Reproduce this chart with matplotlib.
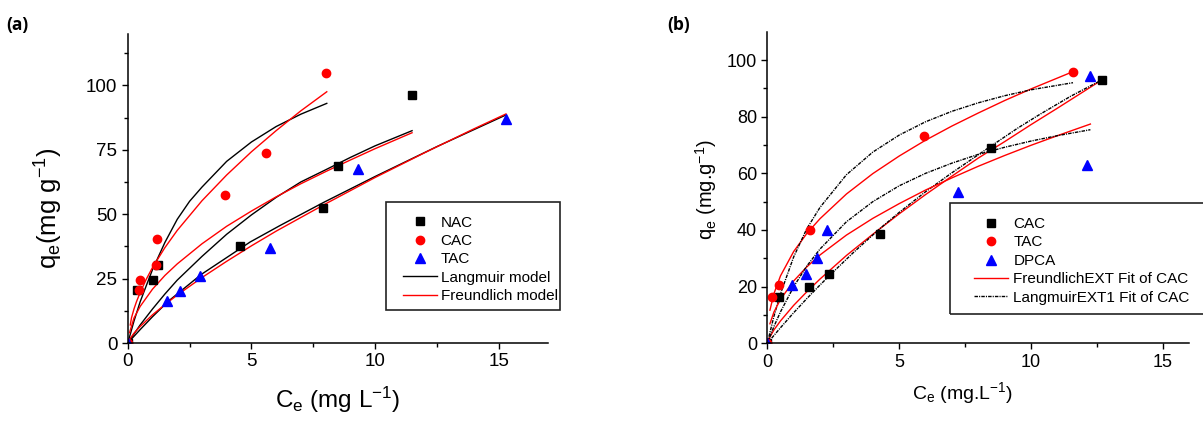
import matplotlib
matplotlib.use("Agg")
import matplotlib.pyplot as plt
from matplotlib.patches import Rectangle

plt.rcParams['font.family'] = ['Liberation Sans', 'DejaVu Sans']

# ---- panel (a) measured points ----
a_nac_x = [0, 0.38, 1.01, 1.22, 4.52, 7.9, 8.52, 11.5]
a_nac_y = [0, 20.4, 24.3, 30.4, 37.6, 52.4, 68.8, 96.1]
a_cac_x = [0, 0.47, 0.51, 1.15, 1.17, 3.93, 5.6, 8.0]
a_cac_y = [0, 20.4, 24.6, 30.4, 40.5, 57.4, 73.9, 104.9]
a_tac_x = [0, 1.59, 2.13, 2.94, 5.74, 9.33, 15.3]
a_tac_y = [0, 16.2, 20.2, 26.1, 36.9, 67.7, 86.8]

# ---- panel (a) model curves ----
a_lang_cac_x = [0, 0.1, 0.25, 0.5, 0.75, 1, 1.5, 2, 2.5, 3, 4, 5, 6, 7, 8.05]
a_lang_cac_y = [0, 3.4, 8.5, 16, 22.3, 28.5, 39, 48, 55, 60.5, 70.5, 78, 84, 88.8, 93]
a_frd_cac_x = [0.1, 0.15, 0.25, 0.35, 0.5, 0.75, 1, 1.5, 2, 3, 4, 5, 6, 7, 8.05]
a_frd_cac_y = [7, 9.8, 13.2, 16.0, 19.6, 24.8, 29.3, 37, 43.7, 55.2, 65.2, 74.2, 82.4, 90.1, 97.5]
a_lang_nac_x = [0, 0.5, 1, 1.5, 2, 3, 4, 5, 6, 7, 8, 9, 10, 11.5]
a_lang_nac_y = [0, 7.0, 13.2, 19.0, 24.4, 33.6, 42.2, 49.7, 56.5, 62.5, 67.2, 72, 76.5, 82.4]
a_frd_nac_x = [0.07, 0.25, 0.5, 1, 1.5, 2, 3, 4, 5, 6, 7, 8, 9, 10, 11.5]
a_frd_nac_y = [4, 9.7, 14.2, 20.9, 26.2, 30.7, 38.5, 45.3, 51.2, 56.7, 61.8, 66.5, 71, 75.4, 81.6]
a_lang_tac_x = [0, 0.5, 1, 1.65, 2.97, 4.95, 6.16, 7.91, 10, 12.5, 15.3]
a_lang_tac_y = [0, 5.2, 10.2, 16.3, 26.6, 39.2, 45.6, 54.5, 64.6, 76.2, 88.5]
a_frd_tac_x = [0.05, 0.25, 0.5, 1, 1.5, 2, 3, 4, 5, 6, 8, 10, 12, 14, 15.3]
a_frd_tac_y = [1.1, 3.8, 6.4, 10.95, 14.9, 18.6, 25.4, 31.7, 37.7, 43.4, 54.0, 64.2, 73.8, 83.1, 88.9]

# ---- panel (b) measured points ----
b_cac_x = [0, 0.44, 1.58, 2.34, 4.27, 8.48, 12.69]
b_cac_y = [0, 16.4, 20.0, 24.3, 38.7, 69.0, 93.0]
b_tac_x = [0, 0.17, 0.44, 1.62, 5.95, 11.59]
b_tac_y = [0, 16.5, 20.5, 40.1, 73.1, 95.7]
b_dpca_x = [0, 0.92, 1.45, 1.89, 2.27, 7.22, 12.14, 12.22]
b_dpca_y = [0, 20.5, 24.4, 30.2, 40.0, 53.5, 63.1, 94.5]

# ---- panel (b) model curves ----
b_lang_tac_x = [0, 0.25, 0.5, 1, 1.5, 2, 3, 4, 5, 6, 7, 8, 9, 10, 11.59]
b_lang_tac_y = [0, 9.5, 17.5, 30.5, 40.5, 48, 59.5, 67.5, 73.5, 78.2, 81.9, 84.9, 87.4, 89.5, 92.0]
b_frd_tac_x = [0.1, 0.25, 0.5, 1, 1.5, 2, 3, 4, 5, 6, 7, 8, 9, 10, 11.59]
b_frd_tac_y = [11.7, 17.5, 23.8, 32.4, 38.8, 44.0, 52.7, 59.9, 66.1, 71.7, 76.7, 81.3, 85.7, 89.8, 95.9]
b_lang_cac_x = [0, 0.5, 1, 1.5, 2, 2.5, 3.26, 4.27, 5, 6, 7, 8.43, 9.5, 10.33, 11.5, 12.69]
b_lang_cac_y = [0, 5.5, 10.8, 15.8, 20.6, 25.2, 32, 40.5, 46.2, 53.5, 60.2, 69.3, 76.0, 80.8, 87.2, 93.0]
b_frd_cac_x = [0.05, 0.25, 0.5, 1, 1.5, 2, 3, 4, 5, 6, 7, 8, 9, 10, 11, 12.69]
b_frd_cac_y = [1.4, 4.7, 7.9, 13.4, 18.2, 22.7, 31.0, 38.5, 45.7, 52.5, 59.0, 65.4, 71.2, 77.2, 83.0, 93.0]
b_lang_dpca_x = [0, 0.25, 0.5, 1, 1.5, 2, 3, 4, 5, 6, 7, 8, 9, 10, 11, 12.25]
b_lang_dpca_y = [0, 5.9, 11.1, 20, 27.3, 33.3, 42.9, 50, 55.6, 60, 63.6, 66.7, 69.2, 71.4, 73.3, 75.4]
b_frd_dpca_x = [0.1, 0.25, 0.5, 1, 1.5, 2, 3, 4, 5, 6, 7, 8, 9, 10, 11, 12.25]
b_frd_dpca_y = [6.9, 11.0, 15.5, 22, 27.0, 31.2, 38.2, 44.1, 49.3, 54.1, 58.4, 62.5, 66.3, 69.9, 73.3, 77.4]

RED = '#ff0000'
BLUE = '#0000ff'
W, H = 1203, 421

fig = plt.figure(figsize=(12.03, 4.21), dpi=100)


def style_axis(ax, fs):
    for s in ('top', 'right'):
        ax.spines[s].set_visible(False)
    for s in ('left', 'bottom'):
        ax.spines[s].set_linewidth(1.1)
    ax.tick_params(which='major', direction='out', length=4.5, width=1.0,
                   labelsize=fs, pad=3)
    ax.tick_params(which='minor', direction='out', length=3, width=1.0)


# ---------------- (a) ----------------
ax = fig.add_axes([127.8 / W, 78 / H, 420.2 / W, 309.2 / H])
lw = 1.0
ax.plot(a_lang_cac_x, a_lang_cac_y, color='black', lw=lw, label='Langmuir model')
ax.plot(a_frd_cac_x, a_frd_cac_y, color=RED, lw=lw, label='Freundlich model')
ax.plot(a_lang_nac_x, a_lang_nac_y, color='black', lw=lw)
ax.plot(a_frd_nac_x, a_frd_nac_y, color=RED, lw=lw)
ax.plot(a_lang_tac_x, a_lang_tac_y, color='black', lw=lw)
ax.plot(a_frd_tac_x, a_frd_tac_y, color=RED, lw=lw)
ax.plot(a_nac_x, a_nac_y, 's', color='black', ms=5.5, ls='none', label='NAC')
ax.plot(a_cac_x, a_cac_y, 'o', color=RED, ms=6, ls='none', label='CAC')
ax.plot(a_tac_x, a_tac_y, '^', color=BLUE, ms=7, ls='none', label='TAC')

ax.set_xlim(0, 17)
ax.set_ylim(0, 120)
ax.set_xticks([0, 5, 10, 15])
ax.set_xticks([2.5, 7.5, 12.5], minor=True)
ax.set_yticks([0, 25, 50, 75, 100])
ax.set_yticks([12.5, 37.5, 62.5, 87.5, 112.5], minor=True)
style_axis(ax, 13.5)
ax.set_xlabel(r'$\mathregular{C_e}$ (mg L$\mathregular{^{-1}}$)', fontsize=17.5)
ax.set_ylabel(r'$\mathregular{q_e}$(mg g$\mathregular{^{-1}}$)', fontsize=18.5)
ax.xaxis.set_label_coords(0.5, -0.135)
ax.yaxis.set_label_coords(-0.15, 0.437)

h, l = ax.get_legend_handles_labels()
order = [2, 3, 4, 0, 1]
ax.legend([h[i] for i in order], [l[i] for i in order], loc='upper left',
          bbox_to_anchor=(402.7 / W, 1 - 215.5 / H), bbox_transform=fig.transFigure,
          frameon=False, borderpad=0, borderaxespad=0, handlelength=2.22,
          handletextpad=0.26, labelspacing=0.29, numpoints=1, fontsize=11)
fig.patches.append(Rectangle((385.7 / W, 1 - 310 / H), 174.3 / W, 107.7 / H,
                             transform=fig.transFigure, fill=False,
                             edgecolor='#222222', lw=1.2))

# ---------------- (b) ----------------
bx = fig.add_axes([767.3 / W, 77.7 / H, 422 / W, 311.6 / H])
dash = (0, (2.5, 0.8, 0.8, 0.8))
bx.plot(b_frd_cac_x, b_frd_cac_y, color=RED, lw=lw, label='FreundlichEXT Fit of CAC')
bx.plot(b_lang_cac_x, b_lang_cac_y, color='black', lw=lw, ls=dash,
        label='LangmuirEXT1 Fit of CAC')
bx.plot(b_frd_tac_x, b_frd_tac_y, color=RED, lw=lw)
bx.plot(b_lang_tac_x, b_lang_tac_y, color='black', lw=lw, ls=dash)
bx.plot(b_frd_dpca_x, b_frd_dpca_y, color=RED, lw=lw)
bx.plot(b_lang_dpca_x, b_lang_dpca_y, color='black', lw=lw, ls=dash)
bx.plot(b_cac_x, b_cac_y, 's', color='black', ms=5.5, ls='none', label='CAC')
bx.plot(b_tac_x, b_tac_y, 'o', color=RED, ms=6, ls='none', label='TAC')
bx.plot(b_dpca_x, b_dpca_y, '^', color=BLUE, ms=7, ls='none', label='DPCA')

bx.set_xlim(0, 16)
bx.set_ylim(0, 110)
bx.set_xticks([0, 5, 10, 15])
bx.set_xticks([2.5, 7.5, 12.5], minor=True)
bx.set_yticks([0, 20, 40, 60, 80, 100])
bx.set_yticks([10, 30, 50, 70, 90], minor=True)
style_axis(bx, 13)
bx.set_xlabel(r'$\mathregular{C_e}$ (mg.L$\mathregular{^{-1}}$)', fontsize=14)
bx.set_ylabel(r'$\mathregular{q_e}$ (mg.g$\mathregular{^{-1}}$)', fontsize=14.5)
bx.xaxis.set_label_coords(0.4626, -0.118)
bx.yaxis.set_label_coords(-0.1154, 0.492)

h, l = bx.get_legend_handles_labels()
bx.legend([h[i] for i in order], [l[i] for i in order], loc='upper left',
          bbox_to_anchor=(974.3 / W, 1 - 217 / H), bbox_transform=fig.transFigure,
          frameon=False, borderpad=0, borderaxespad=0, handlelength=2.22,
          handletextpad=0.33, labelspacing=0.29, numpoints=1, fontsize=11)
fig.patches.append(Rectangle((950 / W, 1 - 314 / H), 262 / W, 111 / H,
                             transform=fig.transFigure, fill=False,
                             edgecolor='#222222', lw=1.2))

fig.text(6.7 / W, 1 - 25 / H, '(a)', family=['Open Sans', 'DejaVu Sans'],
         fontweight='bold', fontsize=12.5, va='center', ha='left')
fig.text(667 / W, 1 - 25 / H, '(b)', family=['Open Sans', 'DejaVu Sans'],
         fontweight='bold', fontsize=12.5, va='center', ha='left')

fig.savefig('out.png', dpi=100)
